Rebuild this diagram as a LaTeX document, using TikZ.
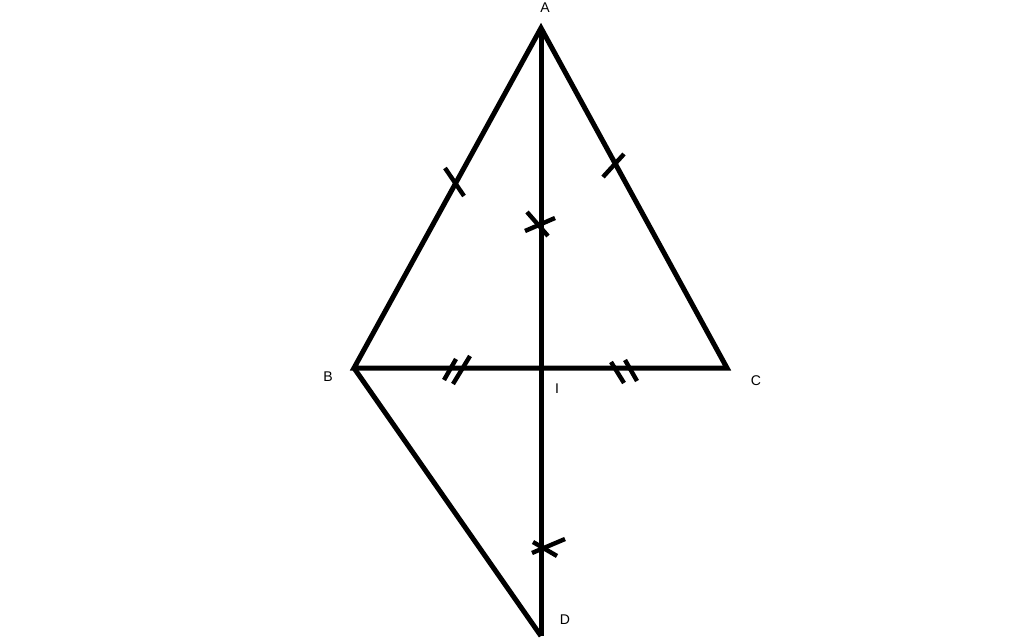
\documentclass[tikz,border=0pt]{standalone}
\usepackage{fontspec}
\setsansfont{Liberation Sans}
\usetikzlibrary{positioning, calc}

\begin{document}
\begin{tikzpicture}[x=0.25mm, y=-0.25mm, every node/.style={font=\sffamily\fontsize{10}{12}\selectfont, inner sep=0pt},
    seg/.style={line width=1.25mm},
    tick/.style={line width=1.1mm}]
        \useasboundingbox (0,0) rectangle (1024,640);

        % Points
        \coordinate (A) at (541,28);
        \coordinate (B) at (354,368);
        \coordinate (C) at (727,368);
        \coordinate (I) at (541,368);
        \coordinate (D) at (541,636);

        % Labels
        \node (lA) at (545,8) {A};
        \node (lB) at (328,377) {B};
        \node (lC) at (756,381) {C};
        \node (lI) at (557,389) {I};
        \node (lD) at (565,620) {D};

        % Triangle ABC and the kite
        \draw[seg] (A) -- (B) -- (C) -- cycle;
        \draw[seg] (A) -- (I) -- (D);
        \draw[seg] (B) -- (D);

        % AB = AC
        \draw[tick] (445,168) -- (464,196);
        \draw[tick] (603,177) -- (624,154);

        % IA = ID
        \draw[tick] (525,231) -- (555,218);
        \draw[tick] (527,212) -- (548,236);
        \draw[tick] (532,553) -- (565,539);
        \draw[tick] (533,542) -- (557,556);

        % IB = IC
        \draw[tick] (444,380) -- (456,359);
        \draw[tick] (453,384) -- (470,356);
        \draw[tick] (611,362) -- (624,383);
        \draw[tick] (625,360) -- (637,381);
    \end{tikzpicture}
\end{document}
